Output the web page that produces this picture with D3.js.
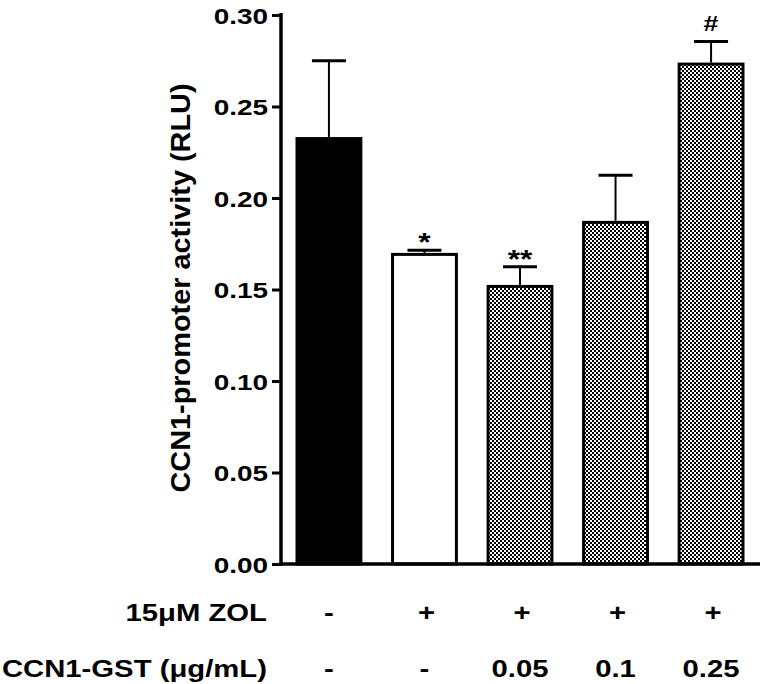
<!DOCTYPE html>
<html><head><meta charset="utf-8">
<script src="https://cdn.jsdelivr.net/npm/d3@7"></script>
<style>body{margin:0;background:#fff}svg{display:block}text{font-family:"Liberation Sans",Arial,sans-serif;font-weight:bold;fill:#000}</style>
</head><body>
<script>
const categories = ["ctrl", "zol", "zol+0.05", "zol+0.1", "zol+0.25"];
const means = [0.2333, 0.1700, 0.1525, 0.1875, 0.2740];
const errors = [0.0417, 0.0015, 0.0100, 0.0250, 0.0115];
const fills = ["black", "white", "pattern", "pattern", "pattern"];
const sigLabels = ["", "*", "**", "", "#"];
const zolRow = ["-", "+", "+", "+", "+"];
const ccnRow = ["-", "-", "0.05", "0.1", "0.25"];
const yTicks = [0, 0.05, 0.10, 0.15, 0.20, 0.25, 0.30];

const W = 768, H = 684;
const svg = d3.select("body").append("svg").attr("width", W).attr("height", H);

const pat = svg.append("defs").append("pattern").attr("id", "chk")
  .attr("patternUnits", "userSpaceOnUse").attr("width", 4).attr("height", 4);
pat.append("rect").attr("width", 4).attr("height", 4).attr("fill", "#fff");
pat.append("rect").attr("width", 2).attr("height", 2).attr("fill", "#000");
pat.append("rect").attr("x", 2).attr("y", 2).attr("width", 2).attr("height", 2).attr("fill", "#000");

const y = d3.scaleLinear().domain([0, 0.30]).range([564, 15]);
const x = d3.scaleBand().domain(categories).range([295.5, 744.5]).paddingInner(0.3).paddingOuter(0);
const axisX = 281;
const SX = 1.22;

// bars
svg.selectAll("rect.bar").data(categories).join("rect").attr("class", "bar")
  .attr("x", d => x(d) + 1.5)
  .attr("width", x.bandwidth() - 3)
  .attr("y", (d, i) => y(means[i]) + 1.5)
  .attr("height", (d, i) => y(0) - y(means[i]) - 1.5)
  .attr("fill", (d, i) => fills[i] === "pattern" ? "url(#chk)" : fills[i])
  .attr("stroke", "#000").attr("stroke-width", 3);

// error bars
const eb = svg.append("g");
categories.forEach((c, i) => {
  const cx = x(c) + x.bandwidth() / 2;
  const top = y(means[i] + errors[i]);
  eb.append("line").attr("x1", cx).attr("x2", cx).attr("y1", y(means[i])).attr("y2", top)
    .attr("stroke", "#000").attr("stroke-width", 2);
  eb.append("line").attr("x1", cx - 17).attr("x2", cx + 17).attr("y1", top).attr("y2", top)
    .attr("stroke", "#000").attr("stroke-width", 3);
  if (sigLabels[i]) {
    const isHash = sigLabels[i] === "#";
    const off = isHash ? -11 : 1;
    svg.append("text").attr("transform", `translate(${cx},${top + off}) scale(${SX},1)`)
      .attr("text-anchor", "middle").style("font-size", isHash ? "22px" : "26px").text(sigLabels[i]);
  }
});

// y axis
const yAxis = d3.axisLeft(y).tickValues(yTicks).tickFormat(d3.format(".2f")).tickSize(9).tickSizeOuter(0).tickPadding(4);
const gy = svg.append("g").attr("transform", `translate(${axisX},0)`).call(yAxis);
gy.select(".domain").attr("stroke-width", 3.5).attr("d", `M0,${y(0.30) - 2}V${y(0) + 1.5}`);
gy.selectAll(".tick line").attr("stroke-width", 3);
gy.selectAll(".tick text").each(function() {
  const t = d3.select(this);
  t.attr("x", null).attr("dy", null)
   .attr("transform", `translate(-13,8) scale(1.27,1)`)
   .attr("font-family", null).attr("font-size", null)
   .style("font-size", "22px");
});

// x baseline
svg.append("line").attr("x1", axisX - 2).attr("x2", 760).attr("y1", y(0)).attr("y2", y(0))
  .attr("stroke", "#000").attr("stroke-width", 3.5);

// y title
svg.append("text").attr("transform", `translate(190,288) rotate(-90) scale(1,1.22)`)
  .attr("text-anchor", "middle").style("font-size", "23px")
  .attr("textLength", 409).attr("lengthAdjust", "spacingAndGlyphs")
  .text("CCN1-promoter activity (RLU)");

// bottom rows
function row(label, vals, base) {
  svg.append("text").attr("transform", `translate(267,${base}) scale(${SX},1)`)
    .attr("text-anchor", "end").style("font-size", "24px").text(label);
  categories.forEach((c, i) => {
    const cx = x(c) + x.bandwidth() / 2 + (vals[i] === "+" ? 2 : 0);
    svg.append("text").attr("transform", `translate(${cx},${base}) scale(${SX},1)`)
      .attr("text-anchor", "middle").style("font-size", "24px").text(vals[i]);
  });
}
row("15\u03bcM ZOL", zolRow, 621);
row("CCN1-GST (\u03bcg/mL)", ccnRow, 677);
</script>
</body></html>
